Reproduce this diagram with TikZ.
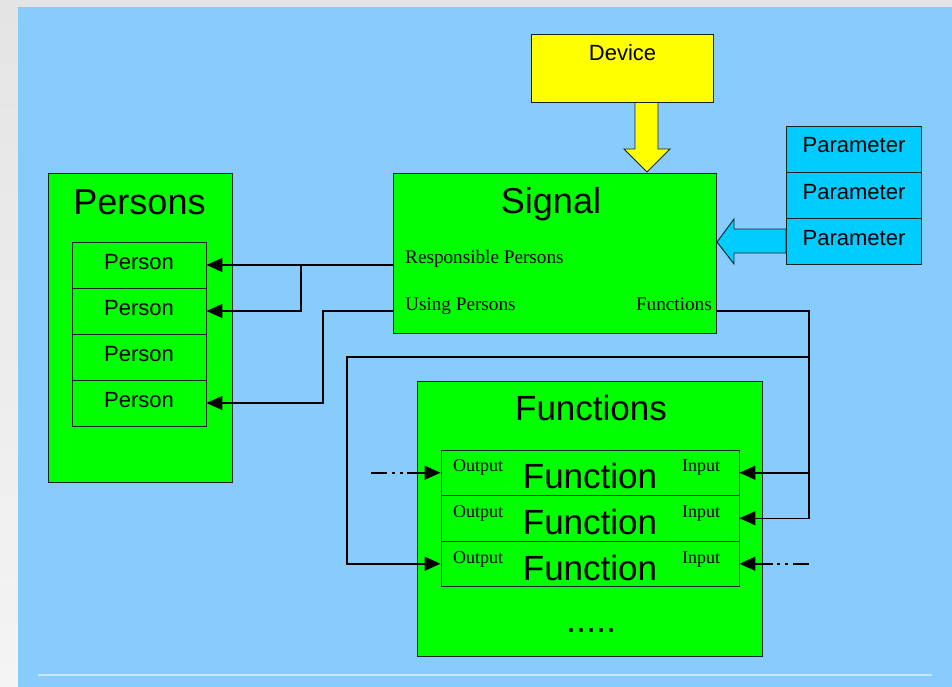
\documentclass[tikz,border=0pt]{standalone}
\usepackage{fontspec}
\setmainfont{Liberation Serif}
\newfontfamily\sansf{Liberation Sans}
\usetikzlibrary{arrows.meta}
\definecolor{bgblue}{RGB}{136,204,254}
\definecolor{pgreen}{RGB}{0,255,0}
\definecolor{pyellow}{RGB}{255,255,0}
\definecolor{pcyan}{RGB}{0,204,255}
\definecolor{edgec}{RGB}{25,35,35}
\definecolor{framec}{RGB}{228,228,228}
\definecolor{framelow}{RGB}{244,244,244}
\definecolor{linec}{RGB}{200,230,252}
\begin{document}
\begin{tikzpicture}[x=1pt,y=-1pt,
  gbox/.style={draw=edgec,line width=0.9pt,fill=pgreen,inner sep=0pt},
  ybox/.style={draw=edgec,line width=0.9pt,fill=pyellow,inner sep=0pt},
  cbox/.style={draw=edgec,line width=0.9pt,fill=pcyan,inner sep=0pt},
  conn/.style={draw=black,line width=1.5pt,-{Triangle[length=16pt,width=14pt]}},
  dashdot/.style={dash pattern=on 16pt off 5pt on 3pt off 5pt on 3pt off 4pt on 40pt},
  bigt/.style={font=\sansf\fontsize{36}{40}\selectfont,anchor=base,inner sep=0pt},
  midt/.style={font=\sansf\fontsize{22}{26}\selectfont,anchor=base,inner sep=0pt},
  sert/.style={font=\fontsize{19.2}{22}\selectfont,inner sep=0pt},
  smallt/.style={font=\fontsize{18}{21}\selectfont,anchor=base west,inner sep=0pt}]
\useasboundingbox (0,0) rectangle (952,687);
% background
\fill[framec] (0,0) rectangle (952,7);
\shade[top color=framec,bottom color=framelow] (0,0) rectangle (18,687);
\fill[bgblue] (18,7) rectangle (952,687);
\draw[linec,line width=2pt] (38,675) -- (932,675);
% block arrows
\filldraw[draw=edgec,fill=pyellow,line width=0.9pt] (635,102) -- (635,149) -- (624,149) -- (647,172) -- (670,149) -- (658,149) -- (658,102) -- cycle;
\filldraw[draw=edgec,fill=pcyan,line width=0.9pt] (786,229) -- (734,229) -- (734,219) -- (717,242) -- (734,264) -- (734,253) -- (786,253) -- cycle;
% boxes
\node[ybox,minimum width=182pt,minimum height=68pt] (device) at (622,68) {};
\node[gbox,minimum width=323pt,minimum height=160pt] (signal) at (554.5,253) {};
\node[gbox,minimum width=184pt,minimum height=309pt] (persons) at (140,327.5) {};
\node[gbox,minimum width=345pt,minimum height=275pt] (functions) at (589.5,518.5) {};
\foreach \i/\y in {1/265,2/311,3/357,4/403}
  \node[gbox,minimum width=134pt,minimum height=46pt] (p\i) at (139,\y) {};
\foreach \i/\y in {1/149,2/195,3/241}
  \node[cbox,minimum width=135pt,minimum height=46pt] (par\i) at (853.5,\y) {};
\foreach \i/\y in {1/472.75,2/518.25,3/563.75}
  \node[gbox,minimum width=298pt,minimum height=45.5pt] (f\i) at (590,\y) {};
% texts
\node[midt] (tdev) at (622.5,61) {Device};
\node[bigt] (tsig) at (551,213) {Signal};
\node[bigt] (tper) at (139.5,214) {Persons};
\node[bigt,font=\sansf\fontsize{35}{40}\selectfont] (tfun) at (591,420) {Functions};
\foreach \i/\y in {1/269,2/315,3/361,4/407}
  \node[midt] (tp\i) at (139,\y) {Person};
\foreach \i/\y in {1/153,2/199,3/245}
  \node[midt] (tpar\i) at (854,\y) {Parameter};
\foreach \i/\y in {1/488,2/534,3/580}
  \node[bigt,font=\sansf\fontsize{35}{40}\selectfont] (tf\i) at (590,\y) {Function};
\foreach \i/\y in {1/471,2/517,3/563}{
  \node[smallt] (out\i) at (453,\y) {Output};
  \node[smallt] (in\i) at (682,\y) {Input};
}
\node[sert,anchor=base west] (resp) at (405,263) {Responsible Persons};
\node[sert,anchor=base west] (using) at (405,310) {Using Persons};
\node[sert,anchor=base east] (sfun) at (712,310) {Functions};
\node[midt,font=\sansf\fontsize{36}{40}\selectfont] (dots) at (591,632) {.....};
% connectors
\coordinate (j1) at (301,265);
\coordinate (j2) at (323,311);
\coordinate (j3) at (809,311);
\coordinate (j4) at (347,357);
\coordinate (d1) at (371,472.75);
\coordinate (d2) at (809,563.75);
\draw[conn] (signal.west |- p1.east) -- (p1.east);
\draw[conn] (j1) -- (j1 |- p2.east) -- (p2.east);
\draw[conn] (signal.west |- p2.east) -- (j2) -- (j2 |- p4.east) -- (p4.east);
\draw[conn] (signal.east |- j3) -- (j3) -- (j3 |- f2.east) -- (f2.east);
\draw[conn] (j3 |- f1.east) -- (f1.east);
\draw[conn] (j3 |- j4) -- (j4) -- (j4 |- f3.west) -- (f3.west);
\draw[conn,dashdot] (d1) -- (f1.west);
\draw[conn,dashdot] (d2) -- (f3.east);
\end{tikzpicture}
\end{document}
